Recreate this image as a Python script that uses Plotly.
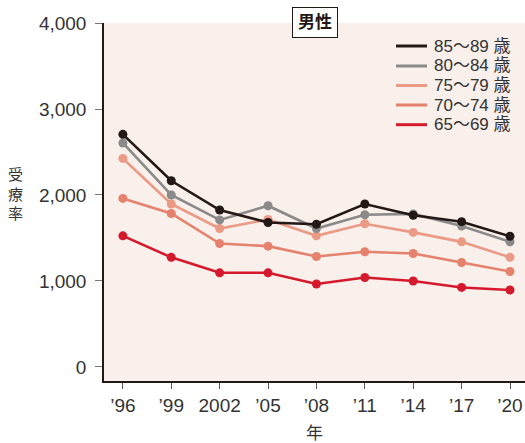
import plotly.graph_objects as go

# Survey years and their axis labels
years = [1996, 1999, 2002, 2005, 2008, 2011, 2014, 2017, 2020]
year_labels = ["’96", "’99", "2002", "’05", "’08", "’11", "’14", "’17", "’20"]

# Treatment rate (per 100,000), men by age group
rate_85_89 = [2705, 2165, 1825, 1680, 1660, 1895, 1765, 1690, 1520]
rate_80_84 = [2605, 2000, 1710, 1875, 1610, 1770, 1780, 1640, 1455]
rate_75_79 = [2425, 1895, 1610, 1715, 1525, 1665, 1565, 1455, 1275]
rate_70_74 = [1960, 1785, 1435, 1405, 1285, 1340, 1320, 1215, 1110]
rate_65_69 = [1525, 1275, 1095, 1095, 965, 1040, 1000, 925, 895]

group_names = ["85～89 歳", "80～84 歳", "75～79 歳", "70～74 歳", "65～69 歳"]
group_rates = [rate_85_89, rate_80_84, rate_75_79, rate_70_74, rate_65_69]
group_colors = ["#231815", "#8a8a8a", "#ea9a85", "#e5826d", "#d5192d"]

FONT = "Liberation Sans, Arial, Noto Sans CJK JP, sans-serif"
TEXT = "#333333"

# figure geometry (pixels) used to place the legend and labels in paper space
W, H = 525, 443
ML, MR, MT, MB = 104, 0, 23, 62
PW, PH = W - ML - MR, H - MT - MB


def px_x(x):
    return (x - ML) / PW


def px_y(y):
    return (H - MB - y) / PH


fig = go.Figure()

# data lines, youngest group drawn first so older groups sit on top
for name, vals, color in reversed(list(zip(group_names, group_rates, group_colors))):
    fig.add_trace(go.Scatter(
        x=years, y=vals, mode="lines+markers", name=name,
        line=dict(color=color, width=2.6),
        marker=dict(color=color, size=9),
        showlegend=False, hoverinfo="x+y+name",
    ))

# legend: short colour bar + label per age group
shapes = []
annotations = []
row_y = [46, 66, 85.5, 105, 124.7]
for name, color, yy in zip(group_names, group_colors, row_y):
    shapes.append(dict(
        type="line", xref="paper", yref="paper",
        x0=px_x(396), x1=px_x(427), y0=px_y(yy), y1=px_y(yy),
        line=dict(color=color, width=3),
    ))
    annotations.append(dict(
        text=name, xref="paper", yref="paper",
        x=px_x(432), y=px_y(yy), xanchor="left", yanchor="middle",
        showarrow=False, font=dict(size=17, color=TEXT),
    ))

# panel title box
annotations.append(dict(
    text="<b>男性</b>", xref="paper", yref="paper",
    x=px_x(314.5), y=px_y(22.5), xanchor="center", yanchor="middle",
    showarrow=False, font=dict(size=17, color="#231815"),
    bgcolor="white", bordercolor="#231815", borderwidth=1, borderpad=5,
))

# vertical y-axis title
annotations.append(dict(
    text="受<br>療<br>率", xref="paper", yref="paper",
    x=px_x(15), y=px_y(194), xanchor="center", yanchor="middle",
    showarrow=False, font=dict(size=15, color=TEXT),
))

fig.update_layout(
    width=W, height=H,
    margin=dict(l=ML, r=MR, t=MT, b=MB),
    paper_bgcolor="white",
    plot_bgcolor="#f9efeb",
    font=dict(family=FONT, size=17, color=TEXT),
    showlegend=False,
    xaxis=dict(
        range=[1996 - 0.39 * 3, 2020 + 0.31 * 3],
        tickvals=years, ticktext=year_labels,
        showgrid=False, zeroline=False,
        showline=True, linecolor="#231815", linewidth=1.5,
        ticks="outside", ticklen=6, tickwidth=1.2, tickcolor="#555555",
        tickfont=dict(size=19, color=TEXT),
        title=dict(text="年", font=dict(size=17, color=TEXT), standoff=14),
    ),
    yaxis=dict(
        range=[-163, 4000],
        tickvals=[0, 1000, 2000, 3000, 4000],
        tickformat=",d",
        showgrid=False, zeroline=False,
        showline=True, linecolor="#231815", linewidth=1.5,
        ticks="outside", ticklen=7, tickwidth=1.2, tickcolor="#777777",
        tickfont=dict(size=19, color=TEXT),
        ticklabelstandoff=5,
    ),
    shapes=shapes,
    annotations=annotations,
)

fig.write_html("out.html")
